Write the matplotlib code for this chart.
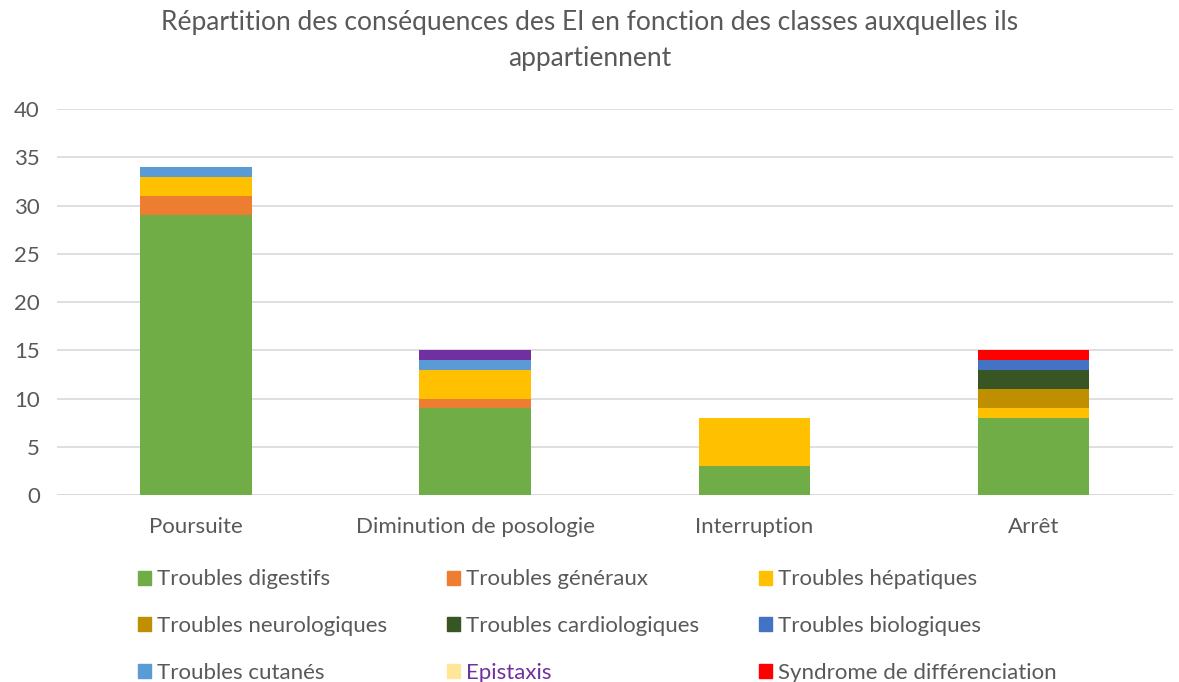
import matplotlib.pyplot as plt
import numpy as np

plt.rcParams['font.family'] = ['Lato', 'DejaVu Sans']

categories = ["Poursuite", "Diminution de posologie", "Interruption", "Arrêt"]

series_names = [
    "Troubles digestifs", "Troubles généraux", "Troubles hépatiques",
    "Troubles neurologiques", "Troubles cardiologiques", "Troubles biologiques",
    "Troubles cutanés", "Epistaxis", "Syndrome de différenciation",
]
digestifs = [29, 9, 3, 8]
generaux = [2, 1, 0, 0]
hepatiques = [2, 3, 5, 1]
neurologiques = [0, 0, 0, 2]
cardiologiques = [0, 0, 0, 2]
biologiques = [0, 0, 0, 1]
cutanes = [1, 1, 0, 0]
epistaxis = [0, 1, 0, 0]
differenciation = [0, 0, 0, 1]

values = [digestifs, generaux, hepatiques, neurologiques, cardiologiques,
          biologiques, cutanes, epistaxis, differenciation]
bar_colors = ["#70AD47", "#ED7D31", "#FFC000", "#BF8F00", "#375623",
              "#4472C4", "#5B9BD5", "#7030A0", "#FF0000"]
legend_colors = list(bar_colors)
legend_colors[7] = "#FFE699"

text_col = "#595959"

fig = plt.figure(figsize=(11.79, 6.82), dpi=100)
ax = fig.add_axes([0.048, 0.274, 0.947, 0.566])

x = np.arange(len(categories))
bottom = np.zeros(len(categories))
for name, vals, col in zip(series_names, values, bar_colors):
    vals = np.array(vals, dtype=float)
    ax.bar(x, vals, 0.4, bottom=bottom, color=col, label=name, zorder=3)
    bottom += vals

ax.set_xlim(-0.5, len(categories) - 0.5)
ax.set_ylim(0, 40)
ax.set_yticks(range(0, 41, 5))
ax.yaxis.grid(True, color="#D9D9D9", linewidth=1.2, zorder=0)
for s in ax.spines.values():
    s.set_visible(False)
ax.axhline(0, color="#D9D9D9", linewidth=1.2, zorder=1)
ax.set_xticks(x)
ax.set_xticklabels(categories)
ax.tick_params(axis="both", length=0, labelsize=16, colors=text_col)
ax.tick_params(axis="x", pad=16)
ax.tick_params(axis="y", pad=12)

fig.suptitle("Répartition des conséquences des EI en fonction des classes auxquelles ils\nappartiennent",
             y=0.985, fontsize=19, color=text_col, linespacing=1.55)

# legend is filled column by column, so reorder to read row-wise
order = [0, 3, 6, 1, 4, 7, 2, 5, 8]
handles = [plt.Rectangle((0, 0), 1, 1, color=legend_colors[i]) for i in order]
labels = [series_names[i] for i in order]
leg = fig.legend(handles, labels, ncol=3, loc="upper left",
                 bbox_to_anchor=(0.117, 0.165), frameon=False,
                 fontsize=16, handlelength=0.6, handleheight=0.6,
                 handletextpad=0.25, columnspacing=2.7, labelspacing=1.2,
                 borderaxespad=0, borderpad=0)
for t in leg.get_texts():
    t.set_color(text_col)
    if t.get_text() == "Epistaxis":
        t.set_color("#7030A0")

fig.savefig("out.png", dpi=100)
